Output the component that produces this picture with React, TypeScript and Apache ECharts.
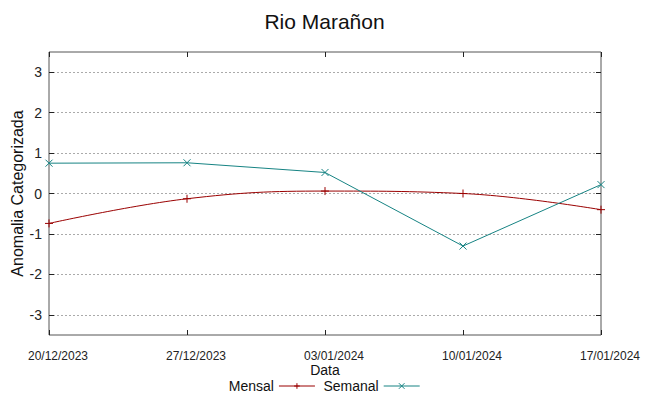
import React, { useEffect, useRef } from "react";
import * as echarts from "echarts";

const categories = ["20/12/2023", "27/12/2023", "03/01/2024", "10/01/2024", "17/01/2024"];
const mensal = [-0.74, -0.13, 0.06, 0.0, -0.4];
const semanal = [0.75, 0.76, 0.52, -1.3, 0.22];
const yTicks = [-3, -2, -1, 0, 1, 2, 3];

const RED = "#9a0000";
const TEAL = "#168383";
const PLUS = "path://M0,5L10,5M5,0L5,10";
const CROSS = "path://M0,0L10,10M0,10L10,0";

export default function App() {
  const ref = useRef<HTMLDivElement>(null);
  useEffect(() => {
    if (!ref.current) return;
    const chart = echarts.init(ref.current, null, { renderer: "svg" });
    const sans = "'Liberation Sans', Arial, sans-serif";
    chart.setOption({
      animation: false,
      backgroundColor: "#fff",
      title: {
        text: "Rio Marañon",
        left: "center",
        top: 6,
        textStyle: { fontFamily: sans, fontSize: 21, fontWeight: "normal", color: "#111" },
      },
      grid: {
        left: 49,
        right: 48,
        top: 52,
        bottom: 61,
        show: true,
        borderColor: "#555",
        borderWidth: 1,
        backgroundColor: "transparent",
        containLabel: false,
        outerBoundsMode: "none",
      },
      legend: {
        top: 374,
        left: "center",
        align: "right",
        itemWidth: 36,
        itemHeight: 7,
        itemGap: 8,
        lineStyle: { width: 1 },
        itemStyle: { borderWidth: 1 },
        textStyle: { fontFamily: sans, fontSize: 14, lineHeight: 14, color: "#111", padding: [0, 0, 0, 0] },
        data: ["Mensal", "Semanal"],
      },
      xAxis: [
        {
          type: "category",
          data: categories,
          boundaryGap: false,
          position: "bottom",
          name: "Data",
          nameLocation: "middle",
          nameGap: 28,
          nameMoveOverlap: false,
          nameTextStyle: { fontFamily: sans, fontSize: 14, lineHeight: 13, color: "#111" },
          axisLine: { show: false, onZero: false },
          axisTick: { show: true, inside: true, length: 5, lineStyle: { color: "#222" } },
          axisLabel: { fontFamily: sans, fontSize: 12, color: "#222", margin: 15, padding: [0, 0, 0, 18] },
          splitLine: { show: false },
        },
        {
          type: "category",
          data: categories,
          boundaryGap: false,
          position: "top",
          axisLine: { show: false, onZero: false },
          axisTick: { show: true, inside: true, length: 5, lineStyle: { color: "#222" } },
          axisLabel: { show: false },
          splitLine: { show: false },
        },
      ],
      yAxis: [
        {
          type: "value",
          min: -3.5,
          max: 3.5,
          position: "left",
          name: "Anomalia Categorizada",
          nameLocation: "middle",
          nameGap: 24,
          nameMoveOverlap: false,
          nameTextStyle: { fontFamily: sans, fontSize: 16, color: "#111" },
          axisLine: { show: false, onZero: false },
          axisTick: { show: true, inside: true, length: 5, customValues: yTicks, lineStyle: { color: "#222" } },
          axisLabel: { fontFamily: sans, fontSize: 14, color: "#222", margin: 7, customValues: yTicks },
          splitLine: { show: true, lineStyle: { color: "#aaa", type: [2, 2], width: 1 } },
        },
        {
          type: "value",
          min: -3.5,
          max: 3.5,
          position: "right",
          axisLine: { show: false, onZero: false },
          axisTick: { show: true, inside: true, length: 5, customValues: yTicks, lineStyle: { color: "#222" } },
          axisLabel: { show: false, customValues: yTicks },
          splitLine: { show: false },
        },
      ],
      series: [
        {
          name: "Mensal",
          type: "line",
          data: mensal,
          smooth: 0.4,
          color: RED,
          symbol: PLUS,
          symbolSize: 8,
          showAllSymbol: true,
          lineStyle: { color: RED, width: 1 },
          itemStyle: { color: RED, borderColor: RED, borderWidth: 1 },
        },
        {
          name: "Semanal",
          type: "line",
          data: semanal,
          color: TEAL,
          symbol: CROSS,
          symbolSize: 7,
          showAllSymbol: true,
          lineStyle: { color: TEAL, width: 1 },
          itemStyle: { color: TEAL, borderColor: TEAL, borderWidth: 1 },
        },
      ],
    });
    return () => chart.dispose();
  }, []);
  return <div ref={ref} style={{ width: 649, height: 396, position: "absolute", left: 0, top: 0 }} />;
}
